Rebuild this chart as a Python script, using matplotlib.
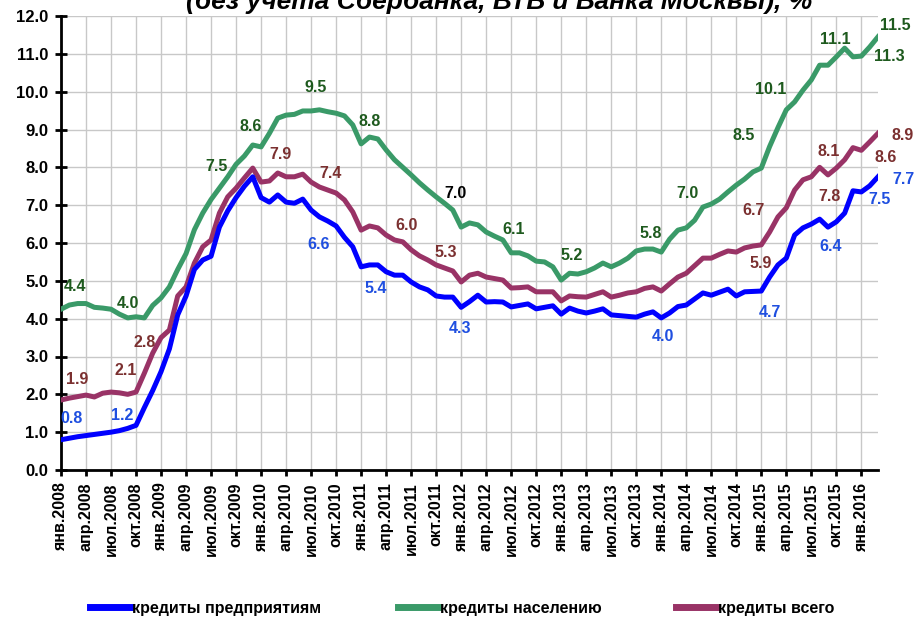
import matplotlib
matplotlib.use('Agg')
import matplotlib.pyplot as plt
import numpy as np
from matplotlib.ticker import FormatStrFormatter
from matplotlib.lines import Line2D
from matplotlib.transforms import ScaledTranslation

# monthly values, янв.2008 - мар.2016
enterprise = [0.80, 0.84, 0.88, 0.91, 0.94, 0.97, 1.00, 1.04, 1.10, 1.18,
              1.65, 2.10, 2.60, 3.20, 4.10, 4.60, 5.30, 5.55, 5.65, 6.42,
              6.85, 7.20, 7.50, 7.75, 7.20, 7.08, 7.27, 7.08, 7.05, 7.16,
              6.87, 6.69, 6.58, 6.45, 6.15, 5.90, 5.37, 5.42, 5.42, 5.24,
              5.15, 5.15, 4.97, 4.84, 4.76, 4.60, 4.57, 4.57, 4.30, 4.45,
              4.62, 4.44, 4.45, 4.44, 4.31, 4.35, 4.39, 4.26, 4.30, 4.34,
              4.12, 4.28, 4.20, 4.15, 4.20, 4.26, 4.10, 4.08, 4.06, 4.04,
              4.12, 4.18, 4.02, 4.15, 4.32, 4.36, 4.52, 4.68, 4.62, 4.70,
              4.78, 4.60, 4.71, 4.72, 4.73, 5.10, 5.42, 5.60, 6.21, 6.40,
              6.50, 6.63, 6.42, 6.56, 6.79, 7.38, 7.35, 7.51, 7.75]

population = [4.25, 4.36, 4.40, 4.40, 4.30, 4.28, 4.25, 4.12, 4.02, 4.05,
              4.02, 4.35, 4.55, 4.84, 5.30, 5.72, 6.35, 6.79, 7.15, 7.45,
              7.75, 8.08, 8.30, 8.59, 8.54, 8.90, 9.30, 9.38, 9.40, 9.49,
              9.49, 9.52, 9.47, 9.43, 9.36, 9.12, 8.62, 8.80, 8.75, 8.46,
              8.20, 8.00, 7.80, 7.59, 7.40, 7.22, 7.05, 6.87, 6.42, 6.53,
              6.48, 6.29, 6.18, 6.08, 5.74, 5.74, 5.66, 5.52, 5.50, 5.37,
              5.02, 5.20, 5.18, 5.24, 5.34, 5.47, 5.37, 5.47, 5.60, 5.79,
              5.84, 5.84, 5.76, 6.10, 6.34, 6.40, 6.60, 6.95, 7.03, 7.16,
              7.35, 7.53, 7.69, 7.88, 7.98, 8.55, 9.05, 9.52, 9.73, 10.04,
              10.31, 10.70, 10.70, 10.92, 11.15, 10.92, 10.94, 11.18, 11.45]

total = [1.85, 1.90, 1.94, 1.98, 1.93, 2.03, 2.06, 2.04, 2.00, 2.06,
         2.56, 3.09, 3.50, 3.70, 4.60, 4.84, 5.47, 5.90, 6.08, 6.79,
         7.22, 7.45, 7.72, 7.98, 7.61, 7.64, 7.85, 7.75, 7.75, 7.82,
         7.61, 7.48, 7.40, 7.32, 7.14, 6.82, 6.34, 6.45, 6.40, 6.21,
         6.08, 6.03, 5.82, 5.66, 5.55, 5.42, 5.34, 5.26, 4.97, 5.15,
         5.20, 5.10, 5.06, 5.02, 4.81, 4.82, 4.84, 4.71, 4.71, 4.71,
         4.47, 4.60, 4.58, 4.57, 4.64, 4.71, 4.57, 4.62, 4.68, 4.71,
         4.80, 4.84, 4.73, 4.92, 5.10, 5.20, 5.40, 5.60, 5.60, 5.70,
         5.79, 5.76, 5.87, 5.92, 5.95, 6.29, 6.69, 6.93, 7.40, 7.67,
         7.75, 8.00, 7.80, 7.98, 8.20, 8.52, 8.45, 8.67, 8.90]

years = list(range(2008, 2017))
quarter_months = ['янв', 'апр', 'июл', 'окт']
tick_labels = [f'{m}.{y}' for y in years for m in quarter_months][:33]

series_names = ['кредиты предприятиям', 'кредиты населению', 'кредиты всего']

# value labels: text, x (month index), y
labels_pop = [('4.4', 1.7, 4.84), ('4.0', 8.0, 4.41), ('7.5', 18.7, 8.01),
              ('8.6', 22.7, 9.07), ('9.5', 30.5, 10.10), ('8.8', 37.0, 9.20),
              ('6.1', 54.3, 6.37), ('5.2', 61.2, 5.66), ('5.8', 70.7, 6.26),
              ('7.0', 75.2, 7.30), ('8.5', 81.9, 8.83), ('10.1', 85.1, 10.07),
              ('11.1', 92.9, 11.39), ('11.3', 99.4, 10.94), ('11.5', 100.1, 11.76)]
labels_total = [('1.9', 2.0, 2.38), ('2.1', 7.8, 2.64), ('2.8', 10.0, 3.36),
                ('7.9', 26.3, 8.33), ('7.4', 32.3, 7.85), ('6.0', 41.5, 6.45),
                ('5.3', 46.1, 5.74), ('5.9', 83.9, 5.45), ('6.7', 83.1, 6.85),
                ('8.1', 92.1, 8.41), ('7.8', 92.2, 7.22), ('8.6', 98.9, 8.27),
                ('8.9', 101.0, 8.83)]
labels_ent = [('0.8', 1.3, 1.35), ('1.2', 7.3, 1.45), ('6.6', 30.9, 5.97),
              ('5.4', 37.8, 4.81), ('4.3', 47.9, 3.73), ('4.0', 72.2, 3.54),
              ('4.7', 85.0, 4.15), ('6.4', 92.3, 5.92), ('7.5', 98.2, 7.14),
              ('7.7', 101.0, 7.69)]
labels_black = [('7.0', 47.3, 7.32)]

plt.rcParams['font.family'] = ['Liberation Sans', 'DejaVu Sans']
plt.rcParams['font.weight'] = 'bold'

c_ent, c_pop, c_tot = '#0000ff', '#3a9a68', '#993366'

fig = plt.figure(figsize=(9.15, 6.18), dpi=100)
ax = fig.add_axes([61 / 915, 1 - 470 / 618, (878 - 61) / 915, (470 - 16) / 618])

x = np.arange(len(enterprise))
ax.plot(x, population, color=c_pop, lw=3.6, solid_joinstyle='round', zorder=3)
ax.plot(x, total, color=c_tot, lw=3.6, solid_joinstyle='round', zorder=4)
ax.plot(x, enterprise, color=c_ent, lw=3.6, solid_joinstyle='round', zorder=5)

for lst, col in [(labels_pop, '#1e5a1e'), (labels_total, '#7b3030'),
                 (labels_ent, '#1f4fe0'), (labels_black, 'black')]:
    for t, xx, yy in lst:
        ax.text(xx, yy, t, ha='center', va='center', fontsize=11.5,
                fontweight='bold', color=col, zorder=6)

ax.set_xlim(0, 98)
ax.set_ylim(0, 12)
ax.set_xticks(np.arange(0, 99, 3))
ax.set_xticklabels(tick_labels, rotation=90, fontsize=11.5)
shift = ScaledTranslation(6 / 100, 0, fig.dpi_scale_trans)
for lab in ax.get_xticklabels():
    lab.set_transform(lab.get_transform() + shift)
ax.set_yticks(np.arange(0, 13, 1))
ax.yaxis.set_major_formatter(FormatStrFormatter('%.1f'))
ax.tick_params(axis='y', labelsize=12, direction='inout', length=8, width=2, pad=5)
ax.tick_params(axis='x', direction='out', length=4, width=2, pad=5)
ax.grid(True, color='#c8c8c8', lw=1.0)
ax.set_axisbelow(True)
for s in ['top', 'right']:
    ax.spines[s].set_visible(False)
for s in ['left', 'bottom']:
    ax.spines[s].set_linewidth(2)

fig.text(0.545, 1 - 9 / 618, '(без учета Сбербанка, ВТБ и Банка Москвы), %',
         ha='center', va='baseline', fontsize=19, fontweight='bold', style='italic')

# legend entries placed one by one, like the original
legend_x = [90, 398, 676]
for c, name, lx in zip([c_ent, c_pop, c_tot], series_names, legend_x):
    h = Line2D([], [], color=c, lw=5)
    fig.legend([h], [name], loc='center left', bbox_to_anchor=(lx / 915, 1 - 608 / 618),
               frameon=False, fontsize=11.5, handlelength=2.5, handletextpad=0.15,
               borderpad=0, borderaxespad=0)

fig.savefig('out.png', dpi=100)
